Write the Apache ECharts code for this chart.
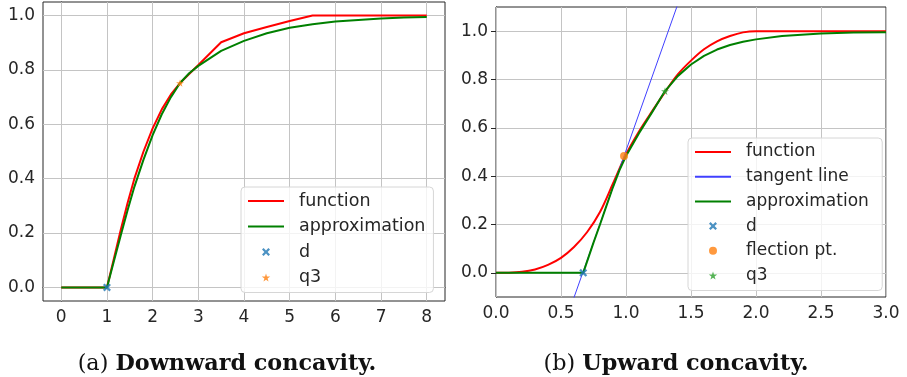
<!DOCTYPE html>
<html>
<head>
<meta charset="utf-8">
<script src="https://cdn.jsdelivr.net/npm/echarts@6/dist/echarts.min.js"></script>
<style>
html, body { margin: 0; padding: 0; background: #fff; }
#chart { width: 907px; height: 377px; }
</style>
</head>
<body>
<div id="chart"></div>
<script>
// (a) downward concavity
const aFuncX = [0, 1, 1.15, 1.3, 1.45, 1.6, 1.8, 2.0, 2.2, 2.4, 2.6, 3.0, 3.5, 4.0, 4.5, 5.0, 5.5, 8.0];
const aFuncY = [0, 0, 0.105, 0.21, 0.31, 0.4, 0.5, 0.585, 0.655, 0.71, 0.752, 0.818, 0.902, 0.935, 0.958, 0.98, 1.0, 1.0];
const aApproxX = [0, 1, 1.15, 1.3, 1.45, 1.6, 1.8, 2.0, 2.2, 2.4, 2.6, 2.8, 3.0, 3.5, 4.0, 4.5, 5.0, 5.5, 6.0, 6.5, 7.0, 7.5, 8.0];
const aApproxY = [0, 0, 0.095, 0.19, 0.283, 0.37, 0.47, 0.56, 0.637, 0.7, 0.752, 0.788, 0.815, 0.87, 0.907, 0.935, 0.955, 0.968, 0.978, 0.984, 0.989, 0.993, 0.995];
const aD = [1, 0];
const aQ3 = [2.6, 0.752];
const aXTicks = [0, 1, 2, 3, 4, 5, 6, 7, 8];
const aYTicks = [0, 0.2, 0.4, 0.6, 0.8, 1.0];

// (b) upward concavity
const bFuncX = [0, 0.1, 0.2, 0.3, 0.4, 0.5, 0.6, 0.7, 0.8, 0.9, 1.0, 1.1, 1.2, 1.3, 1.4, 1.5, 1.6, 1.7, 1.8, 1.9, 2.0, 3.0];
const bFuncY = [0, 0.0005, 0.004, 0.014, 0.033, 0.062, 0.107, 0.168, 0.252, 0.37, 0.49, 0.585, 0.668, 0.748, 0.822, 0.878, 0.925, 0.958, 0.98, 0.995, 1.0, 1.0];
const bApproxX = [0, 0.671, 0.75, 0.8, 0.85, 0.9, 0.95, 1.0, 1.1, 1.2, 1.3, 1.4, 1.5, 1.6, 1.7, 1.8, 1.9, 2.0, 2.2, 2.5, 2.75, 3.0];
const bApproxY = [0, 0, 0.125, 0.2, 0.278, 0.355, 0.425, 0.483, 0.578, 0.664, 0.752, 0.815, 0.862, 0.898, 0.924, 0.943, 0.956, 0.966, 0.98, 0.99, 0.994, 0.996];
const bTangentX = [0.5, 1.5];
const bTangentY = [-0.254, 1.266];
const bD = [0.671, 0];
const bFlection = [0.985, 0.483];
const bQ3 = [1.3, 0.752];
const bXTicks = [0, 0.5, 1.0, 1.5, 2.0, 2.5, 3.0];
const bYTicks = [0, 0.2, 0.4, 0.6, 0.8, 1.0];

const zip = (xs, ys) => xs.map((x, i) => [x, ys[i]]);
const near = (v, list) => list.some(t => Math.abs(t - v) < 1e-6);

const X_MARK = 'path://M2,0L5,3L8,0L10,2L7,5L10,8L8,10L5,7L2,10L0,8L3,5L0,2Z';
const STAR = 'path://M50,0L61,35L98,35L68,57L79,91L50,70L21,91L32,57L2,35L39,35Z';
const INK = '#262626';
const GRID_C = '#c4c4c4';

function valueAxis(gridIndex, min, max, interval, ticks, digits) {
  return {
    type: 'value', gridIndex, min, max, interval,
    axisLine: { show: true, lineStyle: { color: INK, width: 1 } },
    axisTick: { show: true, length: 5, inside: false, customValues: ticks, lineStyle: { color: INK } },
    axisLabel: {
      customValues: ticks, color: INK, fontFamily: 'DejaVu Sans', fontSize: 17, margin: 8,
      formatter: v => near(v, ticks) ? v.toFixed(digits) : ''
    },
    splitLine: { show: false },
  };
}

function gridSeries(idx, xt, yt) {
  return {
    type: 'line', name: '_grid' + idx, xAxisIndex: idx, yAxisIndex: idx, z: 1,
    data: [], symbol: 'none',
    markLine: {
      z: 1, silent: true, symbol: 'none', label: { show: false }, animation: false,
      lineStyle: { color: GRID_C, width: 1, type: 'solid' },
      emphasis: { disabled: true },
      data: [...xt.map(v => ({ xAxis: v })), ...yt.map(v => ({ yAxis: v }))]
    }
  };
}

function lineSeries(idx, name, data, color, width, smooth) {
  return {
    type: 'line', name, xAxisIndex: idx, yAxisIndex: idx, z: 3,
    data, symbol: 'none', showSymbol: false, smooth: smooth,
    lineStyle: { color, width }, itemStyle: { color }, clip: true
  };
}

function markSeries(idx, name, point, symbol, color, size) {
  return {
    type: 'scatter', name, xAxisIndex: idx, yAxisIndex: idx, z: 5,
    data: [point], symbol, symbolSize: size, symbolKeepAspect: true,
    itemStyle: { color }
  };
}

// line entries get no marker in the legend, only the stroke
const lineEntry = name => ({ name, itemStyle: { opacity: 0 } });

function legendBox(items, left, top, gap, fontSize) {
  return {
    data: items, orient: 'vertical', left, top, itemGap: gap, z: 10,
    itemWidth: 36, itemHeight: 8, selectedMode: false,
    backgroundColor: 'rgba(255,255,255,0.8)', borderColor: '#d6d6d6', borderWidth: 1, borderRadius: 4,
    padding: [4, 8, 5, 6],
    textStyle: { color: INK, fontFamily: 'DejaVu Sans', fontSize, lineHeight: 20, padding: [0, 0, 0, 10] }
  };
}

const captionRich = {
  n: { fontFamily: 'DejaVu Serif', fontSize: 22.3, fill: '#111' },
  b: { fontFamily: 'DejaVu Serif', fontWeight: 'bold', fontSize: 22.3, fill: '#111' }
};

const chart = echarts.init(document.getElementById('chart'), null, { renderer: 'canvas' });
chart.setOption({
  animation: false,
  backgroundColor: '#fff',
  grid: [
    { left: 43, top: 2, width: 402, height: 299, show: true, borderColor: INK, borderWidth: 1 },
    { left: 496, top: 7, width: 390, height: 290, show: true, borderColor: INK, borderWidth: 1 }
  ],
  xAxis: [
    valueAxis(0, -0.4, 8.4, 0.2, aXTicks, 0),
    valueAxis(1, 0, 3, 0.5, bXTicks, 1)
  ],
  yAxis: [
    valueAxis(0, -0.05, 1.05, 0.05, aYTicks, 1),
    valueAxis(1, -0.1, 1.1, 0.1, bYTicks, 1)
  ],
  legend: [
    legendBox([lineEntry('function'), lineEntry('approximation'), 'd', 'q3'], 241, 187, 5.5, 17.5),
    legendBox([lineEntry('function '), lineEntry('tangent line'), lineEntry('approximation '), 'd ', 'flection pt.', 'q3 '], 688, 138, 4.7, 17)
  ],
  graphic: [
    { type: 'text', x: 227, y: 364, style: {
      text: '{n|(a) }{b|Downward concavity.}', textAlign: 'center', textVerticalAlign: 'middle', rich: captionRich } },
    { type: 'text', x: 676, y: 364, style: {
      text: '{n|(b) }{b|Upward concavity.}', textAlign: 'center', textVerticalAlign: 'middle', rich: captionRich } }
  ],
  series: [
    gridSeries(0, aXTicks, aYTicks),
    lineSeries(0, 'function', zip(aFuncX, aFuncY), '#ff0000', 2, false),
    lineSeries(0, 'approximation', zip(aApproxX, aApproxY), '#008000', 2, false),
    markSeries(0, 'd', aD, X_MARK, '#1f77b4', 8),
    markSeries(0, 'q3', aQ3, STAR, '#ff7f0e', 8),

    gridSeries(1, bXTicks, bYTicks),
    lineSeries(1, 'function ', zip(bFuncX, bFuncY), '#ff0000', 2, 0.35),
    lineSeries(1, 'tangent line', zip(bTangentX, bTangentY), '#4040ff', 1, false),
    lineSeries(1, 'approximation ', zip(bApproxX, bApproxY), '#008000', 2, false),
    markSeries(1, 'd ', bD, X_MARK, '#1f77b4', 8),
    markSeries(1, 'flection pt.', bFlection, 'circle', '#ff7f0e', 8),
    markSeries(1, 'q3 ', bQ3, STAR, '#2ca02c', 8)
  ]
});
</script>
</body>
</html>
